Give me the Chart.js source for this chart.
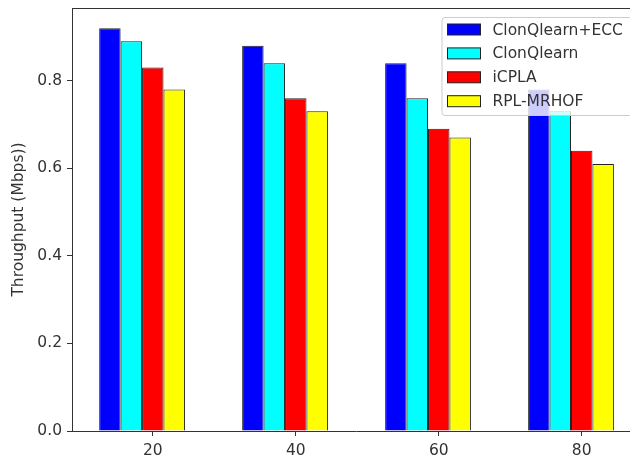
<!DOCTYPE html>
<html>
<head>
<meta charset="utf-8">
<script src="https://cdn.jsdelivr.net/npm/chart.js@4.4.1/dist/chart.umd.min.js"></script>
<style>
  html, body { margin: 0; padding: 0; background: #fff; overflow: hidden; }
</style>
</head>
<body>
<canvas id="myChart" width="650" height="457"></canvas>
<script>
const categories = [20, 40, 60, 80];
const clonQlearnEcc = [0.92, 0.88, 0.84, 0.78];
const clonQlearn = [0.89, 0.84, 0.76, 0.73];
const icpla = [0.83, 0.76, 0.69, 0.64];
const rplMrhof = [0.78, 0.73, 0.67, 0.61];
const yTicks = [0.0, 0.2, 0.4, 0.6, 0.8];

const font = { family: 'DejaVu Sans', size: 15.5 };

// matplotlib-style box: top/right spines and a legend inside the axes
const frameAndLegend = {
    id: 'frameAndLegend',
    afterDraw(chart) {
        const c = chart.ctx;
        const a = chart.chartArea;
        c.save();
        c.strokeStyle = '#333';
        c.lineWidth = 1;
        c.beginPath();
        c.moveTo(a.left, a.top + 0.5);
        c.lineTo(a.right, a.top + 0.5);
        c.lineTo(a.right, a.bottom);
        c.stroke();

        const items = chart.data.datasets.filter(d => d.label);
        const boxLeft = 441.5, boxTop = 17, boxRight = a.right - 8, boxBottom = 115;
        c.fillStyle = 'rgba(255,255,255,0.8)';
        c.strokeStyle = '#cccccc';
        c.beginPath();
        c.roundRect(boxLeft + 0.5, boxTop + 0.5, boxRight - boxLeft, boxBottom - boxTop, 3);
        c.fill();
        c.stroke();

        c.font = font.size + 'px ' + font.family;
        c.textBaseline = 'middle';
        items.forEach((d, i) => {
            const cy = 29.5 + i * 23.9;
            c.fillStyle = d.backgroundColor;
            c.fillRect(447.5, cy - 5.5, 33, 11);
            c.strokeStyle = '#222';
            c.strokeRect(447.5, cy - 5.5, 33, 11);
            c.fillStyle = '#333';
            c.fillText(d.label, 492.5, cy + 1);
        });
        c.restore();
    }
};

const barStyle = { borderColor: '#222', borderWidth: 1, categoryPercentage: 0.75, barPercentage: 1.0 };

const ctx = document.getElementById('myChart').getContext('2d');
const myChart = new Chart(ctx, {
    type: 'bar',
    data: {
        labels: categories,
        datasets: [
            { label: 'ClonQlearn+ECC', data: clonQlearnEcc, backgroundColor: '#0000ff', ...barStyle },
            { label: 'ClonQlearn', data: clonQlearn, backgroundColor: '#00ffff', ...barStyle },
            { label: 'iCPLA', data: icpla, backgroundColor: '#ff0000', ...barStyle },
            { label: 'RPL-MRHOF', data: rplMrhof, backgroundColor: '#ffff00', ...barStyle },
            // empty slot so the third bar sits on the tick, like the original
            { label: '', data: categories.map(() => null), backgroundColor: 'transparent',
              borderWidth: 0, categoryPercentage: 0.75, barPercentage: 1.0 }
        ]
    },
    options: {
        responsive: false,
        animation: false,
        devicePixelRatio: 1,
        layout: { padding: { left: 0, top: 8, right: 10, bottom: 0 } },
        plugins: {
            legend: { display: false },
            tooltip: { enabled: false }
        },
        scales: {
            x: {
                type: 'linear',
                offset: false,
                min: 8.7,
                max: 88.15,
                afterBuildTicks: s => { s.ticks = categories.map(v => ({ value: v })); },
                afterFit: s => { s.height = 26; s.paddingLeft = 0; s.paddingRight = 0; },
                grid: { display: true, offset: false, drawOnChartArea: false, drawTicks: true, tickLength: 5, tickWidth: 1, tickColor: '#333' },
                border: { display: true, color: '#333', width: 1 },
                ticks: { font: font, color: '#333', padding: 6, maxRotation: 0 }
            },
            y: {
                min: 0,
                max: 0.966,
                afterBuildTicks: s => { s.ticks = yTicks.map(v => ({ value: v })); },
                afterFit: s => { s.width = 72; s.paddingTop = 0; s.paddingBottom = 0; },
                grid: { display: true, drawOnChartArea: false, drawTicks: true, tickLength: 5, tickWidth: 1, tickColor: '#333' },
                border: { display: true, color: '#333', width: 1 },
                ticks: { font: font, color: '#333', padding: 5, callback: v => v.toFixed(1) },
                title: {
                    display: true,
                    text: 'Throughput (Mbps))',
                    font: { family: 'DejaVu Sans', size: 15.5 },
                    color: '#333',
                    padding: { top: 10, bottom: 0 }
                }
            }
        }
    },
    plugins: [frameAndLegend]
});
</script>
</body>
</html>
